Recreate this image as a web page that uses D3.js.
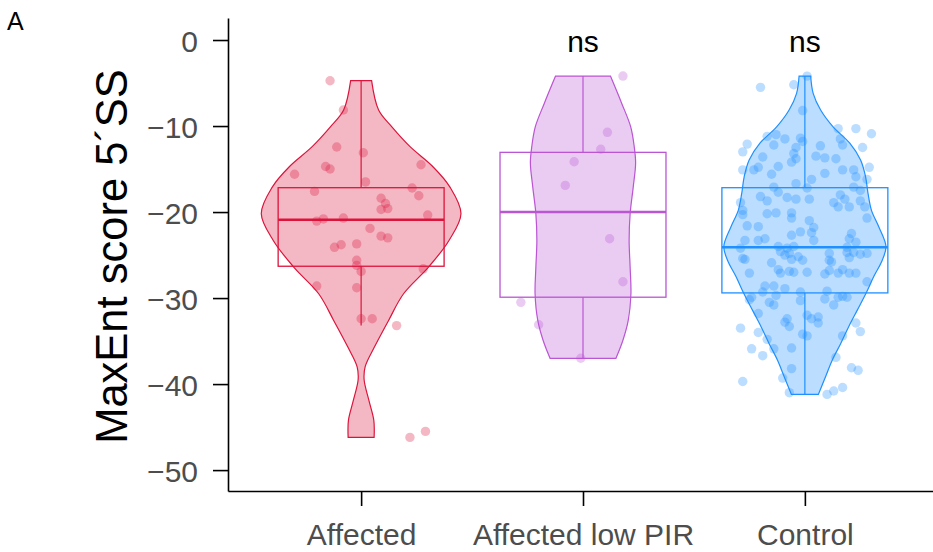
<!DOCTYPE html>
<html>
<head>
<meta charset="utf-8">
<script src="https://cdn.jsdelivr.net/npm/d3@7"></script>
<style>
  body { margin: 0; background: #fff; }
  svg { display: block; font-family: "Liberation Sans", Arial, Helvetica, sans-serif; }
</style>
</head>
<body>
<div id="chart"></div>
<script>
var groups = ["Affected", "Affected low PIR", "Control"];
var colors = ["#DC143C", "#BA55D3", "#1E90FF"];
var sigLabels = ["", "ns", "ns"];
var yTicks = [0, -10, -20, -30, -40, -50];

// box stats: [lower whisker, q1, median, q3, upper whisker]
var boxAffected = [-33.2, -26.3, -20.9, -17.17, -4.73];
var boxLowPIR = [-37.0, -29.9, -20.0, -13.06, -4.19];
var boxControl = [-41.2, -29.4, -24.1, -17.17, -4.19];

// violin outlines: [score, relative density]
var violinAffected = [[-4.73, 0.105], [-8.14, 0.175], [-10.1, 0.308], [-12.4, 0.49], [-14.7, 0.717],
  [-17.1, 0.89], [-20.2, 1.0], [-23.3, 0.88], [-26.4, 0.675], [-29.5, 0.425], [-32.6, 0.275],
  [-35.7, 0.133], [-38.0, 0.04], [-39.5, 0.03], [-41.9, 0.078], [-44.2, 0.127], [-46.2, 0.13]];
var violinLowPIR = [[-4.19, 0.275], [-7.37, 0.388], [-10.1, 0.478], [-12.4, 0.513], [-14.3, 0.527],
  [-17.1, 0.503], [-20.2, 0.472], [-23.3, 0.462], [-26.4, 0.472], [-29.5, 0.48], [-32.6, 0.453],
  [-34.9, 0.40], [-37.0, 0.33]];
var violinControl = [[-4.19, 0.058], [-6.2, 0.083], [-8.14, 0.158], [-10.1, 0.283], [-12.0, 0.45],
  [-13.95, 0.558], [-15.9, 0.608], [-17.8, 0.632], [-19.8, 0.667], [-21.7, 0.74], [-24.0, 0.812],
  [-25.6, 0.775], [-27.5, 0.69], [-29.5, 0.61], [-31.4, 0.525], [-33.3, 0.44], [-35.3, 0.358],
  [-37.2, 0.275], [-39.2, 0.205], [-41.2, 0.135]];

// jittered points: [score, horizontal jitter in category steps]
var pointsAffected = [[-4.73, -0.14], [-8.14, -0.08], [-12.44, -0.11], [-13.1, 0.01], [-14.7, -0.16],
  [-15.0, -0.14], [-15.6, -0.30], [-14.5, 0.27], [-16.5, 0.02], [-17.6, -0.21], [-17.2, 0.23],
  [-18.1, 0.26], [-18.4, 0.09], [-19.0, 0.11], [-19.7, 0.09], [-19.6, 0.12], [-20.35, 0.30],
  [-21.05, -0.20], [-20.8, -0.17], [-20.7, -0.08], [-21.9, 0.04], [-22.8, 0.09], [-23.0, 0.12],
  [-24.1, -0.12], [-23.8, -0.09], [-23.7, -0.02], [-25.6, -0.02], [-26.2, -0.02], [-26.9, 0.0],
  [-26.6, 0.28], [-28.6, -0.20], [-28.8, -0.02], [-32.4, 0.0], [-32.4, 0.05], [-33.2, 0.16],
  [-46.2, 0.22], [-45.5, 0.29]];
var pointsLowPIR = [[-4.19, 0.18], [-10.73, 0.11], [-12.7, 0.08], [-14.15, -0.04], [-16.9, -0.08],
  [-23.1, 0.12], [-28.1, 0.18], [-30.5, -0.28], [-33.1, -0.20], [-37.0, -0.01]];
var pointsControl = [[-4.2, 0.01], [-5.5, -0.20], [-5.2, -0.05], [-8.2, -0.01], [-11.2, -0.17],
  [-11.0, -0.13], [-11.5, -0.09], [-12.2, -0.14], [-11.4, -0.02], [-11.8, -0.01], [-12.1, -0.26],
  [-13.0, -0.28], [-10.3, 0.15], [-10.3, 0.23], [-10.9, 0.30], [-11.5, 0.16], [-12.2, 0.17],
  [-12.5, 0.26], [-12.5, -0.04], [-13.2, -0.05], [-13.8, -0.04], [-14.2, -0.06], [-12.3, 0.07],
  [-13.5, 0.05], [-13.7, 0.09], [-13.8, 0.14], [-13.6, -0.19], [-14.8, -0.21], [-15.1, -0.23],
  [-15.1, -0.28], [-14.7, -0.12], [-15.6, -0.15], [-15.1, 0.17], [-15.1, 0.22], [-15.5, 0.09],
  [-14.8, 0.29], [-15.9, 0.23], [-16.2, 0.28], [-16.2, 0.03], [-16.7, -0.04], [-17.1, -0.14],
  [-17.7, -0.12], [-17.2, 0.01], [-17.1, 0.22], [-17.5, 0.25], [-18.2, -0.20], [-18.7, -0.17],
  [-18.3, -0.08], [-18.5, -0.04], [-18.5, 0.02], [-18.9, -0.29], [-19.8, -0.28], [-20.3, -0.28],
  [-18.9, 0.13], [-19.4, 0.15], [-18.0, 0.16], [-18.5, 0.18], [-19.4, 0.20], [-18.7, 0.25],
  [-19.4, 0.27], [-20.1, -0.06], [-20.7, -0.06], [-20.1, -0.13], [-20.2, -0.17], [-21.0, 0.02],
  [-21.8, 0.04], [-22.4, 0.03], [-23.3, 0.04], [-20.7, 0.28], [-21.6, -0.26], [-21.7, -0.21],
  [-22.7, -0.06], [-22.3, -0.02], [-23.3, -0.27], [-23.3, -0.21], [-23.1, -0.18], [-22.5, 0.21],
  [-23.1, 0.20], [-23.5, 0.23], [-24.1, 0.19], [-24.0, -0.12], [-24.6, -0.11], [-24.2, -0.08],
  [-25.0, -0.09], [-24.8, -0.07], [-24.0, -0.05], [-25.2, -0.03], [-25.6, -0.01], [-25.5, -0.06],
  [-24.2, -0.29], [-25.4, -0.28], [-25.5, -0.27], [-24.8, 0.11], [-25.6, 0.11], [-25.8, 0.12],
  [-24.7, 0.19], [-25.3, 0.20], [-24.7, 0.22], [-24.9, 0.25], [-24.8, 0.28], [-25.9, -0.15],
  [-27.1, -0.25], [-26.7, -0.12], [-27.1, -0.11], [-26.9, -0.07], [-27.0, -0.05], [-27.0, 0.01],
  [-27.2, 0.09], [-26.8, 0.11], [-27.1, 0.15], [-26.7, 0.17], [-27.1, 0.20], [-27.1, 0.23],
  [-28.1, 0.28], [-28.6, -0.18], [-28.6, -0.14], [-28.9, -0.09], [-29.3, -0.19], [-29.3, -0.02],
  [-29.2, 0.10], [-29.9, -0.24], [-30.2, -0.25], [-29.7, -0.13], [-30.5, -0.16], [-30.8, -0.14],
  [-30.3, -0.02], [-30.1, 0.09], [-29.9, 0.15], [-29.8, 0.17], [-29.9, 0.19], [-30.8, 0.13],
  [-31.8, -0.21], [-32.4, -0.08], [-33.3, -0.07], [-32.8, -0.09], [-32.0, 0.01], [-32.4, 0.03],
  [-32.2, 0.06], [-32.9, 0.06], [-32.9, 0.23], [-33.9, 0.25], [-33.5, -0.29], [-34.0, -0.21],
  [-34.8, -0.17], [-34.2, -0.01], [-34.4, 0.01], [-34.4, 0.17], [-35.9, -0.24], [-36.7, -0.19],
  [-35.9, -0.14], [-35.8, -0.06], [-36.9, 0.14], [-38.1, 0.21], [-38.4, 0.24], [-38.2, -0.06],
  [-39.3, -0.10], [-39.7, -0.28], [-41.0, -0.07], [-41.2, 0.10], [-40.8, 0.13], [-40.4, 0.17]];

var boxes = [boxAffected, boxLowPIR, boxControl];
var violins = [violinAffected, violinLowPIR, violinControl];
var points = [pointsAffected, pointsLowPIR, pointsControl];

var width = 933, height = 552;
var svg = d3.select("#chart").append("svg")
    .attr("width", width).attr("height", height);

var x = d3.scalePoint().domain(groups).range([228, 938]).padding(0.6);
var y = d3.scaleLinear().domain([-52.43, 2.56]).range([491, 18]);
var w = d3.scaleLinear().domain([0, 1]).range([0, 0.45 * x.step()]);
var boxHalf = 0.374 * x.step();

// violins
groups.forEach(function (g, i) {
    var cx = x(g);
    var area = d3.area()
        .y(function (d) { return y(d[0]); })
        .x0(function (d) { return cx - w(d[1]); })
        .x1(function (d) { return cx + w(d[1]); })
        .curve(d3.curveCatmullRom);
    svg.append("path")
        .attr("d", area(violins[i]))
        .attr("fill", colors[i]).attr("fill-opacity", 0.3)
        .attr("stroke", colors[i]).attr("stroke-width", 1.2);
});

// boxplots
groups.forEach(function (g, i) {
    var cx = x(g), b = boxes[i];
    var grp = svg.append("g").attr("stroke", colors[i]).attr("fill", "none");
    grp.append("line").attr("x1", cx).attr("x2", cx).attr("y1", y(b[0])).attr("y2", y(b[1])).attr("stroke-width", 1.2);
    grp.append("line").attr("x1", cx).attr("x2", cx).attr("y1", y(b[3])).attr("y2", y(b[4])).attr("stroke-width", 1.2);
    grp.append("rect")
        .attr("x", cx - boxHalf).attr("width", boxHalf * 2)
        .attr("y", y(b[3])).attr("height", y(b[1]) - y(b[3]))
        .attr("stroke-width", 1.3);
    grp.append("line").attr("x1", cx - boxHalf).attr("x2", cx + boxHalf)
        .attr("y1", y(b[2])).attr("y2", y(b[2])).attr("stroke-width", 2.6);
});

// jittered points
groups.forEach(function (g, i) {
    svg.append("g").selectAll("circle").data(points[i]).enter().append("circle")
        .attr("cx", function (d) { return x(g) + d[1] * x.step(); })
        .attr("cy", function (d) { return y(d[0]); })
        .attr("r", 4.7)
        .attr("fill", colors[i]).attr("fill-opacity", 0.3);
});

// significance labels
svg.append("g").selectAll("text").data(groups).enter().append("text")
    .attr("x", function (d) { return x(d); })
    .attr("y", 52)
    .attr("text-anchor", "middle")
    .attr("font-size", 30)
    .attr("fill", "#000")
    .text(function (d, i) { return sigLabels[i]; });

// axes
var yAxis = svg.append("g").attr("transform", "translate(228,0)")
    .call(d3.axisLeft(y).tickValues(yTicks).tickSize(15).tickSizeOuter(0).tickPadding(15));
var xAxis = svg.append("g").attr("transform", "translate(0,491)")
    .call(d3.axisBottom(x).tickSize(15).tickSizeOuter(0).tickPadding(18));

[yAxis, xAxis].forEach(function (a) {
    a.select(".domain").attr("stroke", "#000").attr("stroke-width", 1.6);
    a.selectAll(".tick line").attr("stroke", "#000").attr("stroke-width", 1.6);
    a.selectAll(".tick text").attr("font-size", 30).attr("fill", "#4d4d4d")
        .attr("font-family", "'Liberation Sans', Arial, Helvetica, sans-serif");
});
yAxis.selectAll(".tick text").attr("dy", "0.38em");

// y title
svg.append("text")
    .attr("transform", "translate(127,256.5) rotate(-90)")
    .attr("text-anchor", "middle")
    .attr("font-size", 43.5)
    .attr("fill", "#000")
    .text("MaxEnt score 5\u00B4SS");

// panel tag
svg.append("text")
    .attr("x", 7).attr("y", 30)
    .attr("font-size", 25)
    .attr("fill", "#000")
    .text("A");
</script>
</body>
</html>
